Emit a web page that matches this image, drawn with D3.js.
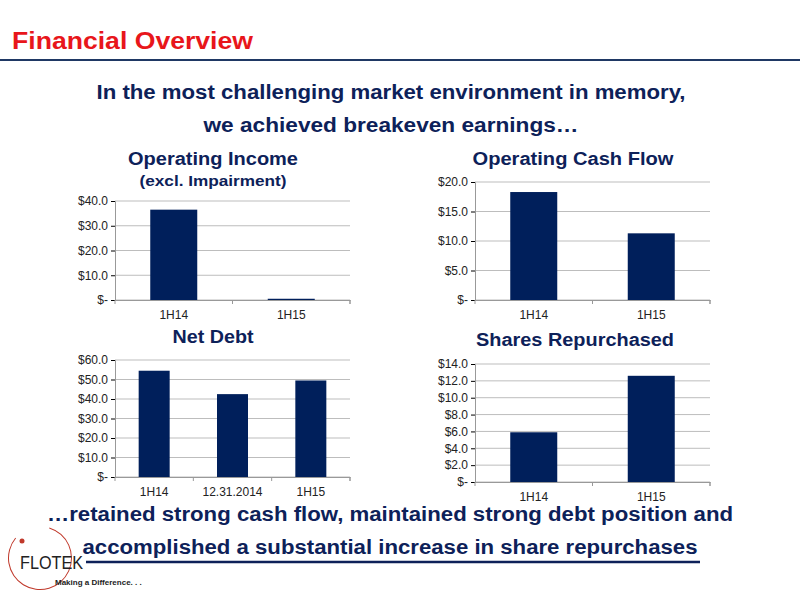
<!DOCTYPE html>
<html><head><meta charset="utf-8">
<script src="https://cdn.jsdelivr.net/npm/d3@7"></script>
<style>body{margin:0;background:#fff}svg{font-family:Arial,"Liberation Sans",sans-serif}</style>
</head><body>
<svg id="c" width="800" height="600"></svg>
<script>
const opIncCats = ["1H14", "1H15"], opIncVals = [36.5, 0.5], opIncTicks = [0, 10, 20, 30, 40];
const cashCats = ["1H14", "1H15"], cashVals = [18.3, 11.3], cashTicks = [0, 5, 10, 15, 20];
const debtCats = ["1H14", "12.31.2014", "1H15"], debtVals = [54.5, 42.5, 49.5], debtTicks = [0, 10, 20, 30, 40, 50, 60];
const repCats = ["1H14", "1H15"], repVals = [5.9, 12.6], repTicks = [0, 2, 4, 6, 8, 10, 12, 14];

const svg = d3.select("#c");
const navy = "#0d2159";

function txt(x, y, s, size, len, fill, anchor) {
  return svg.append("text").attr("x", x).attr("y", y).attr("fill", fill).attr("font-size", size)
    .attr("font-weight", "bold").attr("text-anchor", anchor || "middle")
    .attr("textLength", len).attr("lengthAdjust", "spacingAndGlyphs").text(s);
}

txt(12, 49, "Financial Overview", 24, 241, "#e8161b", "start");
svg.append("line").attr("x1", 0).attr("x2", 800).attr("y1", 60).attr("y2", 60)
  .attr("stroke", "#1f3864").attr("stroke-width", 2);

txt(391, 99, "In the most challenging market environment in memory,", 20, 589, navy);
txt(391, 132, "we achieved breakeven earnings…", 20, 375, navy);
txt(390, 521, "…retained strong cash flow, maintained strong debt position and", 20, 686, navy);
txt(390, 554, "accomplished a substantial increase in share repurchases", 20, 615, navy);

// logo
svg.append("path").attr("d", d3.arc()({innerRadius: 31, outerRadius: 32, startAngle: 0.3, endAngle: 5.4}))
  .attr("transform", "translate(40,558)").attr("fill", "#c0392b");
svg.append("circle").attr("cx", 22).attr("cy", 541).attr("r", 2.5).attr("fill", "#c0392b");
svg.append("text").attr("x", 20).attr("y", 569).attr("font-size", 19).attr("fill", "#222")
  .attr("textLength", 63).attr("lengthAdjust", "spacingAndGlyphs").text("FLOTEK");
svg.append("line").attr("x1", 86).attr("x2", 700).attr("y1", 562).attr("y2", 562)
  .attr("stroke", navy).attr("stroke-width", 2.5);
svg.append("text").attr("x", 55).attr("y", 585).attr("font-size", 8).attr("font-weight", "bold")
  .attr("fill", "#222").text("Making a Difference. . .");

function chart(cats, vals, ticks, box, titles, titleX, titleY, titleLens, barW) {
  const x = d3.scaleBand().domain(cats).range([box.x0, box.x1]);
  const y = d3.scaleLinear().domain([0, d3.max(ticks)]).range([box.y1, box.y0]);
  const g = svg.append("g");
  titles.forEach((t, i) => txt(titleX, titleY + i * 21, t, i ? 15 : 18, titleLens[i], navy));
  g.selectAll(".grid").data(ticks).join("line")
    .attr("x1", box.x0).attr("x2", box.x1).attr("y1", d => y(d)).attr("y2", d => y(d))
    .attr("stroke", "#bdbdbd");
  const ya = g.append("g").attr("transform", `translate(${box.x0},0)`)
    .call(d3.axisLeft(y).tickValues(ticks).tickSize(4).tickFormat(d => d === 0 ? "$-" : "$" + d.toFixed(1)));
  ya.select(".domain").attr("stroke", "#999");
  const xa = g.append("g").attr("transform", `translate(0,${box.y1})`)
    .call(d3.axisBottom(x).tickSize(0).tickPadding(10));
  xa.select(".domain").attr("stroke", "#999");
  [box.x0, ...cats.map(c => x(c) + x.bandwidth()), box.x1].forEach(v =>
    g.append("line").attr("x1", v).attr("x2", v).attr("y1", box.y1).attr("y2", box.y1 + 4).attr("stroke", "#999"));
  g.selectAll(".tick text").attr("font-size", 12).attr("fill", "#222").attr("font-family", "Arial,sans-serif");
  g.selectAll("rect").data(vals).join("rect")
    .attr("x", (d, i) => x(cats[i]) + (x.bandwidth() - barW) / 2).attr("width", barW)
    .attr("y", d => y(d)).attr("height", d => box.y1 - y(d)).attr("fill", "#001f5b");
}

chart(opIncCats, opIncVals, opIncTicks, {x0: 115, x1: 350, y0: 201, y1: 300}, ["Operating Income", "(excl. Impairment)"], 213, 165, [170, 147], 47);
chart(cashCats, cashVals, cashTicks, {x0: 475, x1: 710, y0: 182, y1: 300}, ["Operating Cash Flow"], 573, 165, [201], 47);
chart(debtCats, debtVals, debtTicks, {x0: 115, x1: 350, y0: 360, y1: 477}, ["Net Debt"], 213, 343, [81], 31);
chart(repCats, repVals, repTicks, {x0: 475, x1: 710, y0: 364, y1: 482}, ["Shares Repurchased"], 575, 346, [198], 47);
</script>
</body></html>
